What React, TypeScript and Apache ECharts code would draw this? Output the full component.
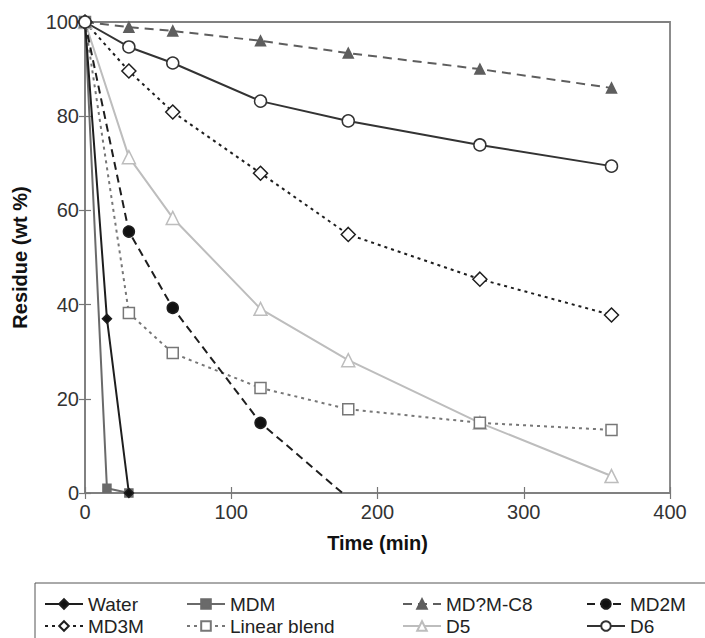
import React, { useEffect, useRef } from "react";
import * as echarts from "echarts";

const xTicks = [0, 100, 200, 300, 400];
const yTicks = [0, 20, 40, 60, 80, 100];

const waterT = [0, 15, 30];
const waterY = [100, 37, 0];
const mdmT = [0, 15, 30];
const mdmY = [100, 1, 0];
const seriesT = [0, 30, 60, 120, 180, 270, 360];
const c8Y = [100, 98.9, 98.1, 96.0, 93.4, 90.0, 86.0];
const md2mT = [0, 30, 60, 120, 176];
const md2mY = [100, 55.5, 39.3, 14.9, 0];
const md3mY = [100, 89.6, 80.9, 67.9, 54.9, 45.4, 37.8];
const blendY = [100, 38.2, 29.7, 22.3, 17.8, 14.9, 13.4];
const d5Y = [100, 71.3, 58.4, 39.1, 28.2, 14.9, 3.6];
const d6Y = [100, 94.7, 91.3, 83.2, 79.0, 73.9, 69.4];

const names = ["Water", "MDM", "MD?M-C8", "MD2M", "MD3M", "Linear blend", "D5", "D6"];

const FONT = "'Liberation Sans', Arial, Helvetica, sans-serif";

function pts(t: number[], y: number[]) {
  return t.map((v, i) => [v, y[i]]);
}

export default function App() {
  const ref = useRef<HTMLDivElement>(null);
  useEffect(() => {
    if (!ref.current) return;
    const chart = echarts.init(ref.current, null, { renderer: "svg" });

    const md2mData: any[] = pts(md2mT, md2mY).map((p, i) =>
      i === md2mT.length - 1 ? { value: p, symbol: "none" } : p
    );

    const mk = (name: string, data: any[], color: string, lineType: any, symbol: string, size: number, fill: string, lw = 2) => ({
      name,
      type: "line",
      data,
      symbol,
      symbolSize: size,
      showSymbol: true,
      lineStyle: { color, width: lw, type: lineType },
      itemStyle: { color: fill, borderColor: color, borderWidth: 1.5 },
      emphasis: { disabled: true },
      z: 3,
    });

    const series = [
      mk("MD?M-C8", pts(seriesT, c8Y), "#5e5e5e", [9, 6], "triangle", 10, "#5e5e5e"),
      mk("D5", pts(seriesT, d5Y), "#bdbdbd", "solid", "triangle", 13, "#ffffff"),
      mk("Linear blend", pts(seriesT, blendY), "#777777", [3, 4], "rect", 11, "#ffffff"),
      mk("MD3M", pts(seriesT, md3mY), "#1e1e1e", [3, 4], "diamond", 14, "#ffffff"),
      mk("MD2M", md2mData, "#1e1e1e", [8, 5], "circle", 11, "#111111"),
      mk("MDM", pts(mdmT, mdmY), "#6a6a6a", "solid", "rect", 8, "#6a6a6a"),
      mk("Water", pts(waterT, waterY), "#1e1e1e", "solid", "diamond", 9, "#111111"),
      mk("D6", pts(seriesT, d6Y), "#333333", "solid", "circle", 12, "#ffffff"),
    ];

    const colLeft = [44, 186, 402, 586];
    const rowTop = [594, 616];
    const legends = names.map((n, i) => ({
      data: [n],
      left: colLeft[i % 4],
      top: rowTop[Math.floor(i / 4)],
      itemWidth: 38,
      itemHeight: 12,
      padding: 0,
      selectedMode: false,
      textStyle: { fontFamily: FONT, fontSize: 19, lineHeight: 20, color: "#222" },
    }));

    const tickLabel = { fontFamily: FONT, fontSize: 20, color: "#333" };
    const nameStyle = { fontFamily: FONT, fontSize: 20, fontWeight: "bold", color: "#111" };
    const tick = { show: true, inside: true, length: 6, lineStyle: { color: "#777", width: 1.2 } };

    chart.setOption({
      animation: false,
      backgroundColor: "#ffffff",
      textStyle: { fontFamily: FONT },
      grid: {
        left: 85,
        right: 35,
        top: 22,
        bottom: 145,
        show: true,
        borderColor: "#808080",
        borderWidth: 1.8,
        backgroundColor: "transparent",
      },
      legend: legends,
      graphic: [
        {
          type: "rect",
          shape: { x: 35, y: 583, width: 700, height: 80 },
          style: { fill: "none", stroke: "#555", lineWidth: 1 },
          silent: true,
        },
      ],
      xAxis: [
        {
          type: "value",
          min: xTicks[0],
          max: xTicks[xTicks.length - 1],
          interval: 100,
          name: "Time (min)",
          nameLocation: "middle",
          nameGap: 40,
          nameTextStyle: nameStyle,
          axisLine: { show: true, lineStyle: { color: "#808080", width: 1.8 } },
          axisTick: tick,
          axisLabel: { ...tickLabel, margin: 9 },
          splitLine: { show: false },
        },
        {
          type: "value",
          position: "top",
          min: xTicks[0],
          max: xTicks[xTicks.length - 1],
          interval: 100,
          axisLine: { show: false },
          axisTick: tick,
          axisLabel: { show: false },
          splitLine: { show: false },
        },
      ],
      yAxis: [
        {
          type: "value",
          min: yTicks[0],
          max: yTicks[yTicks.length - 1],
          interval: 20,
          name: "Residue (wt %)",
          nameLocation: "middle",
          nameGap: 55,
          nameTextStyle: nameStyle,
          axisLine: { show: true, lineStyle: { color: "#808080", width: 1.8 } },
          axisTick: tick,
          axisLabel: { ...tickLabel, margin: 6 },
          splitLine: { show: false },
        },
        {
          type: "value",
          position: "right",
          min: yTicks[0],
          max: yTicks[yTicks.length - 1],
          interval: 20,
          axisLine: { show: false },
          axisTick: tick,
          axisLabel: { show: false },
          splitLine: { show: false },
        },
      ],
      series,
    });
    return () => chart.dispose();
  }, []);
  return (
    <div
      ref={ref}
      style={{ position: "fixed", left: 0, top: 0, width: 705, height: 638 }}
    />
  );
}
